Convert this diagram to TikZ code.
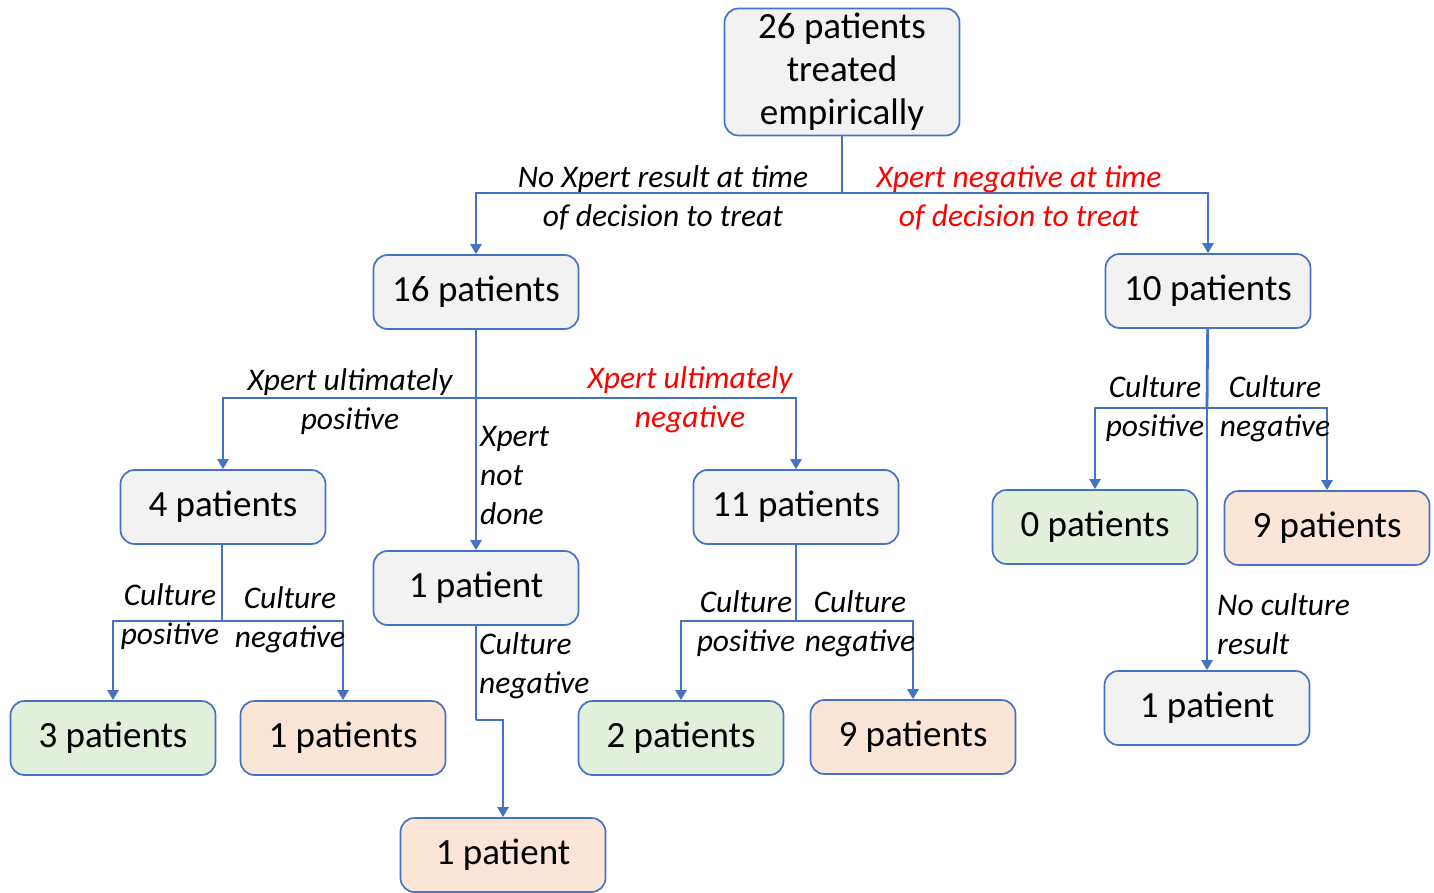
\documentclass[tikz,border=0pt]{standalone}
\usepackage{fontspec}
\setmainfont{Carlito}
\usetikzlibrary{arrows.meta,positioning}

\definecolor{edgeblue}{RGB}{68,114,196}
\definecolor{boxgrey}{RGB}{242,242,242}
\definecolor{boxgreen}{RGB}{226,239,218}
\definecolor{boxorange}{RGB}{251,229,214}
\definecolor{lblred}{RGB}{255,0,0}

\tikzset{
  box/.style={draw=edgeblue, line width=1.7pt, rounded corners=14pt,
    minimum width=205pt, minimum height=74pt, align=center,
    font=\fontsize{37}{43}\selectfont},
  greybox/.style={box, fill=boxgrey},
  greenbox/.style={box, fill=boxgreen},
  orangebox/.style={box, fill=boxorange},
  lbl/.style={font=\fontsize{31.5}{39}\selectfont\itshape, align=center, inner sep=0pt},
  redlbl/.style={lbl, text=lblred},
  link/.style={draw=edgeblue, line width=2.8pt},
  flow/.style={link, -{Triangle[width=11pt,length=10pt]}},
}

\begin{document}
\begin{tikzpicture}[x=1pt,y=-1pt]
	\useasboundingbox (0,0) rectangle (1434,892);

	% boxes
	\node[greybox, minimum width=235pt, minimum height=127pt] (top) at (842,72) {26 patients\\treated\\empirically};
	\node[greybox]   (n16)  at (476,292)  {16 patients};
	\node[greybox]   (n10)  at (1208,291) {10 patients};
	\node[greybox]   (n4)   at (223,507)  {4 patients};
	\node[greybox]   (n1m)  at (476,588)  {1 patient};
	\node[greybox]   (n11)  at (796,507)  {11 patients};
	\node[greenbox]  (n0)   at (1095,527) {0 patients};
	\node[orangebox] (n9r)  at (1327,528) {9 patients};
	\node[greenbox]  (n3)   at (113,738)  {3 patients};
	\node[orangebox] (n1o)  at (343,738)  {1 patients};
	\node[greenbox]  (n2)   at (681,738)  {2 patients};
	\node[orangebox] (n9)   at (913,737)  {9 patients};
	\node[greybox]   (n1r)  at (1207,708) {1 patient};
	\node[orangebox] (n1b)  at (503,855)  {1 patient};

	% forks
	\coordinate (f0)  at (842,193);
	\coordinate (f16) at (476,398);
	\coordinate (f4)  at (222,621);
	\coordinate (f11) at (796,621);
	\coordinate (f10) at (1207,408);
	\coordinate (jog) at (476,720);

	\draw[link] (top) -- (f0);
	\draw[flow] (f0) -| (n16);
	\draw[flow] (f0) -| (n10);

	\draw[link] (n16) -- (f16);
	\draw[flow] (f16) -| (n4);
	\draw[flow] (f16) -| (n11);
	\draw[flow] (f16) -- (n1m);

	\draw[link] (n4.south -| f4) -- (f4);
	\draw[flow] (f4) -| (n3);
	\draw[flow] (f4) -| (n1o);

	\draw[link] (n1m) -- (jog);
	\draw[flow] (jog) -| (n1b);

	\draw[link] (n11) -- (f11);
	\draw[flow] (f11) -| (n2);
	\draw[flow] (f11) -| (n9);

	\draw[link] (n10) -- (f10);
	\draw[flow] (f10) -| (n0);
	\draw[flow] (f10) -| (n9r);
	\draw[flow] (f10) -- (n1r);

	% labels
	\node[lbl]    (l0a) at (663,198)  {No Xpert result at time\\of decision to treat};
	\node[redlbl] (l0b) at (1019,198) {Xpert negative at time\\of decision to treat};
	\node[lbl]    (l16a) at (350,402) {Xpert ultimately\\positive};
	\node[redlbl] (l16b) at (690,400) {Xpert ultimately\\negative};
	\node[lbl, align=left, anchor=west] (l16c) at (480,475) {Xpert\\not\\done};
	\node[lbl]    (l4a) at (170,617) {Culture\\positive};
	\node[lbl]    (l4b) at (290,620) {Culture\\negative};
	\node[lbl, align=left, anchor=west] (l1m) at (479,666) {Culture\\negative};
	\node[lbl]    (l11a) at (746,624) {Culture\\positive};
	\node[lbl]    (l11b) at (860,624) {Culture\\negative};
	\node[lbl]    (l10a) at (1155,409) {Culture\\positive};
	\node[lbl]    (l10b) at (1275,409) {Culture\\negative};
	\node[lbl, align=left, anchor=west] (l10c) at (1217,624) {No culture\\result};
\end{tikzpicture}
\end{document}
